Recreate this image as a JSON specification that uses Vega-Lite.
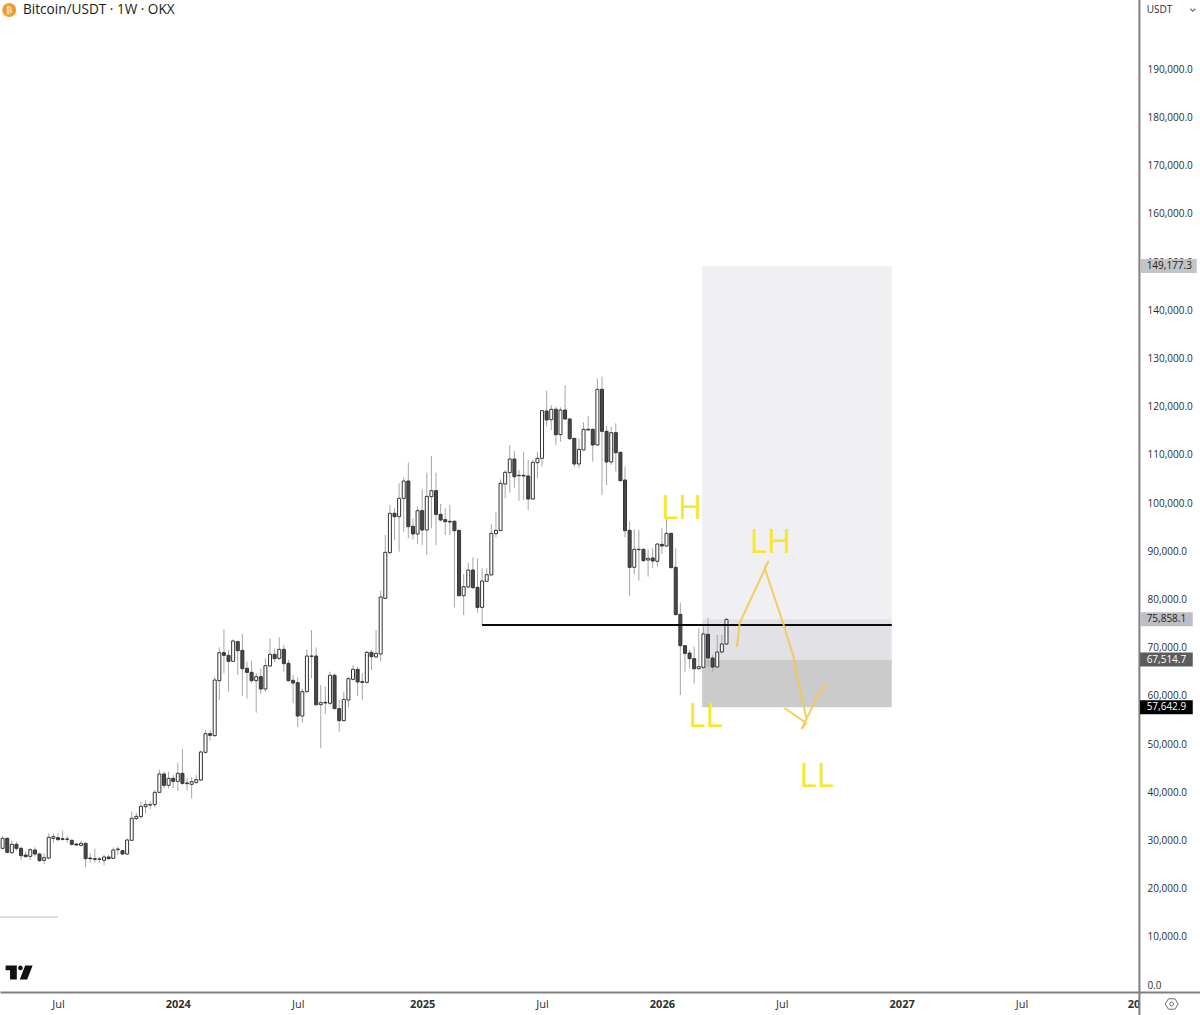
{
"$schema":"https://vega.github.io/schema/vega-lite/v6.json",
"width":1200,"height":992,
"autosize":{"type":"none"},
"padding":{"left":0,"top":0,"right":0,"bottom":23},
"background":"#ffffff",
"config":{"view":{"stroke":null},"font":"Open Sans"},
"datasets":{
"candles":[
{"date":"2023-04-10","open":28353,"high":30912,"low":28146,"close":30428},
{"date":"2023-04-17","open":30428,"high":30636,"low":27316,"close":27523},
{"date":"2023-04-24","open":27454,"high":29944,"low":27178,"close":29183},
{"date":"2023-05-01","open":29183,"high":29737,"low":27869,"close":28353},
{"date":"2023-05-08","open":28353,"high":28699,"low":25933,"close":26832},
{"date":"2023-05-15","open":26970,"high":27662,"low":26486,"close":26624},
{"date":"2023-05-22","open":26693,"high":28353,"low":25933,"close":28077},
{"date":"2023-05-29","open":28008,"high":28561,"low":26624,"close":27178},
{"date":"2023-06-05","open":27178,"high":27454,"low":25518,"close":25795},
{"date":"2023-06-12","open":25864,"high":27316,"low":25103,"close":26417},
{"date":"2023-06-19","open":26348,"high":31466,"low":26071,"close":30636},
{"date":"2023-06-26","open":30428,"high":31466,"low":29529,"close":30774},
{"date":"2023-07-03","open":30566,"high":31466,"low":29944,"close":30151},
{"date":"2023-07-10","open":30359,"high":32019,"low":29944,"close":30221},
{"date":"2023-07-17","open":30290,"high":30912,"low":29529,"close":30221},
{"date":"2023-07-24","open":30013,"high":30221,"low":28907,"close":29183},
{"date":"2023-07-31","open":29252,"high":29529,"low":28838,"close":29045},
{"date":"2023-08-07","open":28976,"high":29944,"low":28699,"close":29391},
{"date":"2023-08-14","open":29391,"high":29529,"low":24412,"close":26210},
{"date":"2023-08-21","open":26348,"high":27316,"low":25379,"close":26210},
{"date":"2023-08-28","open":26210,"high":28284,"low":25379,"close":26071},
{"date":"2023-09-04","open":26071,"high":26624,"low":25379,"close":26140},
{"date":"2023-09-11","open":25864,"high":26970,"low":24826,"close":26555},
{"date":"2023-09-18","open":26555,"high":26970,"low":26071,"close":26210},
{"date":"2023-09-25","open":26279,"high":28561,"low":26140,"close":28008},
{"date":"2023-10-02","open":28077,"high":28699,"low":26970,"close":28215},
{"date":"2023-10-09","open":27869,"high":28008,"low":26970,"close":27178},
{"date":"2023-10-16","open":27178,"high":30428,"low":26970,"close":30082},
{"date":"2023-10-23","open":30013,"high":35961,"low":29875,"close":34578},
{"date":"2023-10-30","open":34509,"high":35754,"low":34232,"close":34993},
{"date":"2023-11-06","open":34924,"high":38036,"low":34578,"close":37068},
{"date":"2023-11-13","open":36998,"high":38382,"low":35615,"close":37413},
{"date":"2023-11-20","open":37413,"high":38036,"low":36445,"close":37344},
{"date":"2023-11-27","open":37413,"high":40456,"low":36860,"close":39972},
{"date":"2023-12-04","open":39972,"high":44744,"low":39765,"close":43776},
{"date":"2023-12-11","open":43776,"high":44260,"low":40802,"close":41425},
{"date":"2023-12-18","open":41425,"high":44260,"low":40802,"close":42877},
{"date":"2023-12-25","open":42877,"high":43569,"low":40802,"close":42255},
{"date":"2024-01-01","open":42255,"high":46128,"low":40249,"close":43914},
{"date":"2024-01-08","open":43914,"high":48963,"low":41494,"close":41840},
{"date":"2024-01-15","open":41909,"high":42877,"low":40318,"close":41770},
{"date":"2024-01-22","open":41632,"high":43084,"low":38727,"close":42185},
{"date":"2024-01-29","open":42047,"high":43569,"low":41701,"close":42600},
{"date":"2024-02-05","open":42531,"high":48617,"low":42323,"close":48341},
{"date":"2024-02-12","open":48272,"high":52905,"low":48064,"close":52144},
{"date":"2024-02-19","open":52144,"high":52905,"low":50692,"close":51799},
{"date":"2024-02-26","open":51729,"high":63970,"low":51521,"close":63278},
{"date":"2024-03-04","open":63140,"high":70056,"low":59129,"close":68949},
{"date":"2024-03-11","open":68949,"high":73790,"low":64661,"close":68396},
{"date":"2024-03-18","open":68396,"high":69503,"low":60858,"close":67151},
{"date":"2024-03-25","open":67151,"high":71716,"low":67082,"close":71370},
{"date":"2024-04-01","open":71232,"high":71439,"low":64316,"close":69364},
{"date":"2024-04-08","open":69433,"high":72822,"low":59954,"close":65630},
{"date":"2024-04-15","open":65699,"high":67082,"low":59474,"close":64869},
{"date":"2024-04-22","open":64869,"high":67290,"low":62587,"close":63140},
{"date":"2024-04-29","open":63140,"high":64661,"low":56501,"close":63970},
{"date":"2024-05-06","open":63970,"high":65699,"low":60374,"close":61411},
{"date":"2024-05-13","open":61411,"high":67774,"low":60858,"close":66252},
{"date":"2024-05-20","open":66183,"high":71923,"low":66045,"close":68604},
{"date":"2024-05-27","open":68604,"high":69848,"low":67082,"close":67704},
{"date":"2024-06-03","open":67774,"high":72131,"low":67428,"close":69641},
{"date":"2024-06-10","open":69641,"high":70540,"low":65007,"close":66667},
{"date":"2024-06-17","open":66736,"high":67428,"low":62933,"close":63140},
{"date":"2024-06-24","open":63209,"high":64316,"low":58437,"close":62656},
{"date":"2024-07-01","open":62725,"high":63831,"low":53457,"close":55809},
{"date":"2024-07-08","open":55809,"high":61549,"low":54426,"close":60858},
{"date":"2024-07-15","open":60858,"high":69641,"low":60651,"close":68258},
{"date":"2024-07-22","open":68258,"high":73652,"low":63624,"close":68189},
{"date":"2024-07-29","open":68258,"high":70056,"low":57884,"close":58160},
{"date":"2024-08-05","open":58160,"high":62241,"low":49100,"close":58575},
{"date":"2024-08-12","open":58644,"high":61895,"low":56224,"close":58506},
{"date":"2024-08-19","open":58437,"high":65007,"low":58091,"close":64246},
{"date":"2024-08-26","open":64246,"high":64661,"low":57192,"close":57331},
{"date":"2024-09-02","open":57331,"high":59129,"low":52558,"close":54841},
{"date":"2024-09-09","open":54841,"high":60858,"low":54633,"close":59267},
{"date":"2024-09-16","open":59129,"high":63970,"low":57607,"close":63555},
{"date":"2024-09-23","open":63416,"high":66390,"low":63140,"close":65491},
{"date":"2024-09-30","open":65491,"high":66045,"low":59959,"close":62863},
{"date":"2024-10-07","open":62932,"high":64661,"low":59129,"close":62794},
{"date":"2024-10-14","open":62794,"high":69364,"low":62587,"close":69018},
{"date":"2024-10-21","open":69018,"high":69503,"low":65353,"close":68119},
{"date":"2024-10-28","open":68050,"high":73652,"low":67774,"close":68811},
{"date":"2024-11-04","open":68673,"high":81800,"low":67075,"close":80498},
{"date":"2024-11-11","open":80220,"high":93360,"low":80082,"close":89764},
{"date":"2024-11-18","open":89695,"high":99585,"low":89418,"close":97856},
{"date":"2024-11-25","open":97856,"high":98893,"low":92323,"close":97164},
{"date":"2024-12-02","open":97164,"high":104080,"low":89902,"close":100968},
{"date":"2024-12-09","open":100968,"high":105325,"low":94052,"close":104564},
{"date":"2024-12-16","open":104564,"high":108368,"low":92669,"close":95089},
{"date":"2024-12-23","open":95158,"high":96818,"low":92461,"close":93568},
{"date":"2024-12-30","open":93568,"high":99239,"low":91493,"close":98409},
{"date":"2025-01-06","open":98409,"high":102835,"low":91285,"close":94398},
{"date":"2025-01-13","open":94398,"high":106293,"low":89211,"close":101383},
{"date":"2025-01-20","open":101314,"high":109751,"low":94743,"close":102559},
{"date":"2025-01-27","open":102559,"high":106293,"low":91285,"close":97648},
{"date":"2025-02-03","open":97648,"high":99792,"low":96127,"close":96472},
{"date":"2025-02-10","open":96542,"high":98893,"low":93360,"close":96127},
{"date":"2025-02-17","open":96196,"high":99585,"low":93360,"close":96058},
{"date":"2025-02-24","open":96196,"high":96472,"low":78352,"close":94259},
{"date":"2025-03-03","open":94329,"high":94398,"low":80566,"close":80773},
{"date":"2025-03-10","open":80773,"high":85268,"low":76762,"close":82640},
{"date":"2025-03-17","open":82571,"high":87620,"low":82294,"close":86098},
{"date":"2025-03-24","open":86098,"high":88726,"low":82087,"close":82433},
{"date":"2025-03-31","open":82502,"high":88519,"low":77246,"close":78352},
{"date":"2025-04-07","open":78352,"high":86444,"low":74687,"close":83816},
{"date":"2025-04-14","open":83747,"high":86444,"low":83678,"close":85130},
{"date":"2025-04-21","open":85061,"high":95642,"low":85061,"close":93706},
{"date":"2025-04-28","open":93637,"high":98201,"low":92876,"close":94329},
{"date":"2025-05-05","open":94259,"high":104910,"low":94190,"close":104080},
{"date":"2025-05-12","open":103941,"high":106847,"low":100968,"close":106362},
{"date":"2025-05-19","open":106293,"high":112033,"low":102143,"close":109128},
{"date":"2025-05-26","open":109128,"high":110788,"low":103180,"close":105463},
{"date":"2025-06-02","open":105739,"high":106846,"low":100483,"close":105670},
{"date":"2025-06-09","open":105739,"high":110650,"low":100622,"close":105600},
{"date":"2025-06-16","open":105600,"high":108921,"low":98547,"close":100829},
{"date":"2025-06-23","open":100829,"high":109059,"low":100622,"close":108437},
{"date":"2025-06-30","open":108367,"high":110650,"low":105117,"close":109267},
{"date":"2025-07-07","open":109267,"high":119295,"low":107538,"close":119157},
{"date":"2025-07-14","open":119087,"high":123306,"low":115837,"close":117220},
{"date":"2025-07-21","open":117289,"high":120332,"low":115145,"close":119433},
{"date":"2025-07-28","open":119433,"high":119986,"low":112033,"close":114177},
{"date":"2025-08-04","open":114177,"high":119848,"low":112724,"close":119295},
{"date":"2025-08-11","open":119295,"high":124482,"low":117220,"close":117428},
{"date":"2025-08-18","open":117428,"high":117566,"low":113070,"close":113347},
{"date":"2025-08-25","open":113416,"high":113416,"low":107399,"close":108091},
{"date":"2025-09-01","open":108091,"high":113416,"low":107192,"close":111134},
{"date":"2025-09-08","open":110996,"high":116736,"low":110996,"close":115284},
{"date":"2025-09-15","open":115284,"high":118050,"low":115145,"close":115145},
{"date":"2025-09-22","open":115284,"high":115491,"low":108575,"close":112033},
{"date":"2025-09-29","open":112033,"high":125865,"low":111825,"close":123583},
{"date":"2025-10-06","open":123583,"high":126211,"low":101659,"close":114869},
{"date":"2025-10-13","open":114869,"high":115975,"low":103734,"close":108506},
{"date":"2025-10-20","open":108506,"high":115837,"low":107883,"close":114592},
{"date":"2025-10-27","open":114592,"high":116528,"low":106500,"close":110442},
{"date":"2025-11-03","open":110511,"high":110650,"low":104425,"close":104633},
{"date":"2025-11-10","open":104772,"high":107538,"low":92876,"close":94260},
{"date":"2025-11-17","open":94329,"high":96127,"low":80704,"close":86652},
{"date":"2025-11-24","open":86652,"high":94536,"low":85269,"close":90387},
{"date":"2025-12-01","open":90387,"high":94398,"low":83886,"close":90318},
{"date":"2025-12-08","open":90387,"high":90594,"low":87828,"close":88035},
{"date":"2025-12-15","open":88174,"high":90387,"low":84716,"close":88519},
{"date":"2025-12-22","open":88589,"high":90594,"low":86445,"close":87966},
{"date":"2025-12-29","open":87897,"high":91632,"low":86790,"close":91493},
{"date":"2026-01-05","open":91424,"high":94744,"low":89419,"close":91078},
{"date":"2026-01-12","open":91078,"high":96819,"low":90940,"close":93706},
{"date":"2026-01-19","open":93706,"high":93706,"low":86445,"close":86583},
{"date":"2026-01-26","open":86652,"high":90733,"low":76762,"close":76831},
{"date":"2026-02-02","open":76900,"high":79321,"low":60164,"close":70399},
{"date":"2026-02-09","open":70399,"high":70537,"low":65005,"close":68809},
{"date":"2026-02-16","open":68878,"high":69500,"low":65697,"close":67702},
{"date":"2026-02-23","open":67702,"high":70192,"low":62584,"close":65628},
{"date":"2026-03-02","open":65628,"high":73996,"low":65489,"close":66042},
{"date":"2026-03-09","open":65904,"high":74342,"low":65697,"close":72820},
{"date":"2026-03-16","open":72751,"high":76209,"low":66042,"close":67841},
{"date":"2026-03-23","open":67841,"high":68463,"low":65005,"close":65973},
{"date":"2026-03-30","open":65973,"high":72612,"low":65697,"close":69085},
{"date":"2026-04-06","open":69085,"high":72612,"low":68809,"close":70745},
{"date":"2026-04-13","open":70745,"high":76070,"low":70537,"close":75858}
],
"zones":[
{"start":"2026-03-07","end":"2026-12-20","top":149177,"bottom":75858,"zone":"reward"},
{"start":"2026-03-07","end":"2026-12-20","top":75858,"bottom":67515,"zone":"entry"},
{"start":"2026-03-07","end":"2026-12-20","top":67515,"bottom":57643,"zone":"risk"}
],
"drawing":[
{"n":1,"leg":"path","date":"2026-04-29","price":70125},
{"n":2,"leg":"path","date":"2026-05-03","price":75104},
{"n":3,"leg":"path","date":"2026-06-16","price":87967},
{"n":4,"leg":"path","date":"2026-06-10","price":86515},
{"n":5,"leg":"path","date":"2026-07-08","price":75104},
{"n":6,"leg":"path","date":"2026-07-24","price":68050},
{"n":7,"leg":"path","date":"2026-07-28","price":64731},
{"n":8,"leg":"path","date":"2026-08-12","price":55602},
{"n":9,"leg":"head","date":"2026-07-10","price":57469},
{"n":10,"leg":"head","date":"2026-08-12","price":54357},
{"n":11,"leg":"head","date":"2026-08-05","price":53112},
{"n":12,"leg":"head","date":"2026-08-25","price":58714},
{"n":13,"leg":"head","date":"2026-09-12","price":62656}
],
"swings":[
{"date":"2026-02-04","price":98756,"label":"LH"},
{"date":"2026-06-19","price":91702,"label":"LH"},
{"date":"2026-03-12","price":55602,"label":"LL"},
{"date":"2026-08-28","price":43154,"label":"LL"}
],
"tags":[
{"date":"2028-01-01","end":"2028-03-27","label_date":"2028-01-11","price":149177.3,"top":150630,"bottom":147725,"zone":"tag_target"},
{"date":"2028-01-01","end":"2028-03-21","label_date":"2028-01-11","price":75858.1,"top":77310,"bottom":74406,"zone":"tag_last"},
{"date":"2028-01-01","end":"2028-03-21","label_date":"2028-01-11","price":67514.7,"top":68967,"bottom":66062,"zone":"tag_entry"},
{"date":"2028-01-01","end":"2028-03-21","label_date":"2028-01-11","price":57642.9,"top":59095,"bottom":56190,"zone":"tag_stop"}
]
},
"layer":[
{"data":{"name":"zones"},
"mark":{"type":"rect"},
"encoding":{
"x":{"field":"start","type":"temporal","title":null,
"scale":{"domain":["2023-04-06","2028-04-01"],"type":"utc","padding":0},
"axis":{"title":null,"grid":false,"ticks":false,"domainColor":"#808080","domainWidth":2,"labelPadding":6,
"labelFontSize":11,"labelColor":"#2e2e2e","labelFont":"Open Sans","labelOverlap":false,"labelBound":false,"labelFlush":false,
"values":["2023-07-03","2024-01-01","2024-07-01","2025-01-06","2025-07-07","2026-01-05","2026-07-06","2027-01-04","2027-07-05","2027-12-22"],
"labelExpr":"utcmonth(datum.value)==11?'20':utcmonth(datum.value)==0?utcyear(datum.value)+'':'Jul'",
"labelFontWeight":{"condition":{"test":"utcmonth(datum.value)==0||utcmonth(datum.value)==11","value":"bold"},"value":"normal"}}},
"x2":{"field":"end"},
"y":{"field":"top","type":"quantitative","title":null,
"scale":{"domain":[-1452,204358],"nice":false,"zero":false},
"axis":{"orient":"right","offset":-61,"title":null,"grid":false,"ticks":false,"domain":false,"labelPadding":8,
"labelFontSize":10,"labelColor":"#2e2e2e","labelFont":"Open Sans","format":",.1f","labelOverlap":false,"labelBound":false,"labelFlush":false,
"values":[0,10000,20000,30000,40000,50000,60000,70000,80000,90000,100000,110000,120000,130000,140000,150000,160000,170000,180000,190000]}},
"y2":{"field":"bottom"},
"color":{"field":"zone","type":"nominal","legend":null,
"scale":{"domain":["reward","entry","risk","tag_target","tag_last","tag_entry","tag_stop"],"range":["#f0f0f3","#e2e2e6","#cbcbcb","#c3c3c8","#bdbfc7","#5c5c5c","#000000"]}}
}},
{"data":{"name":"candles"},
"mark":{"type":"rule","strokeWidth":1,"color":"#a6a6a6"},
"encoding":{"x":{"field":"date","type":"temporal"},"y":{"field":"high","type":"quantitative"},"y2":{"field":"low"}}},
{"data":{"name":"candles"},
"mark":{"type":"bar","size":3,"stroke":"#333333","strokeWidth":1},
"encoding":{"x":{"field":"date","type":"temporal"},"y":{"field":"open","type":"quantitative"},"y2":{"field":"close"},
"fill":{"condition":{"test":"datum.close>=datum.open","value":"#ffffff"},"value":"#484848"}}},
{"data":{"values":[{"start":"2025-04-07","end":"2026-12-20","price":74689}]},
"mark":{"type":"rule","strokeWidth":2,"color":"#0a0a0a"},
"encoding":{"x":{"field":"start","type":"temporal"},"x2":{"field":"end"},"y":{"field":"price","type":"quantitative"}}},
{"data":{"values":[{"start":"2023-04-06","end":"2023-07-03","price":14108}]},
"mark":{"type":"rule","strokeWidth":1,"color":"#bdbdbd"},
"encoding":{"x":{"field":"start","type":"temporal"},"x2":{"field":"end"},"y":{"field":"price","type":"quantitative"}}},
{"data":{"name":"drawing"},
"mark":{"type":"line","strokeWidth":2,"color":"#f3c94f","opacity":0.9},
"encoding":{"x":{"field":"date","type":"temporal"},"y":{"field":"price","type":"quantitative"},"detail":{"field":"leg"},"order":{"field":"n"}}},
{"data":{"name":"swings"},
"mark":{"type":"text","font":"Open Sans","fontSize":33,"fontWeight":400,"color":"#f6e72c","baseline":"middle","align":"center"},
"encoding":{"x":{"field":"date","type":"temporal"},"y":{"field":"price","type":"quantitative"},"text":{"field":"label"}}},
{"data":{"values":[{"x":"2027-12-31","top":204358,"bottom":-6224}]},
"mark":{"type":"rule","strokeWidth":2,"color":"#808080"},
"encoding":{"x":{"field":"x","type":"temporal"},"y":{"field":"top","type":"quantitative"},"y2":{"field":"bottom"}}},
{"data":{"name":"tags"},
"mark":{"type":"rect"},
"encoding":{"x":{"field":"date","type":"temporal"},"x2":{"field":"end"},"y":{"field":"top","type":"quantitative"},"y2":{"field":"bottom"},
"color":{"field":"zone","type":"nominal","legend":null}}},
{"data":{"name":"tags"},
"mark":{"type":"text","font":"Open Sans","fontSize":10,"align":"left","baseline":"middle"},
"encoding":{"x":{"field":"label_date","type":"temporal"},"y":{"field":"price","type":"quantitative"},
"text":{"field":"price","type":"quantitative","format":",.1f"},
"fill":{"condition":{"test":"datum.zone=='tag_entry'||datum.zone=='tag_stop'","value":"#ffffff"},"value":"#222222"}}},
{"data":{"values":[{"date":"2028-01-11","price":202283,"label":"USDT"}]},
"mark":{"type":"text","font":"Open Sans","fontSize":10,"align":"left","baseline":"middle","color":"#2e2e2e"},
"encoding":{"x":{"field":"date","type":"temporal"},"y":{"field":"price","type":"quantitative"},"text":{"field":"label"}}},
{"data":{"values":[{"date":"2028-03-21","price":202283}]},
"mark":{"type":"point","shape":"M-1 -0.5L0 0.5L1 -0.5","size":25,"stroke":"#2e2e2e","strokeWidth":1.2,"fill":null},
"encoding":{"x":{"field":"date","type":"temporal"},"y":{"field":"price","type":"quantitative"}}},
{"data":{"values":[{"date":"2023-05-11","price":202283,"label":"Bitcoin/USDT · 1W · OKX"}]},
"mark":{"type":"text","font":"Open Sans","fontSize":13.6,"align":"left","baseline":"middle","color":"#1a1a1a"},
"encoding":{"x":{"field":"date","type":"temporal"},"y":{"field":"price","type":"quantitative"},"text":{"field":"label"}}},
{"data":{"values":[{"date":"2023-04-20","price":202283}]},
"mark":{"type":"point","shape":"circle","size":196,"filled":true,"color":"#f39a33","opacity":1},
"encoding":{"x":{"field":"date","type":"temporal"},"y":{"field":"price","type":"quantitative"}}},
{"data":{"values":[{"date":"2023-04-20","price":202283,"label":"₿"}]},
"mark":{"type":"text","font":"DejaVu Sans","fontSize":9,"fontWeight":"bold","align":"center","baseline":"middle","color":"#fde7c8"},
"encoding":{"x":{"field":"date","type":"temporal"},"y":{"field":"price","type":"quantitative"},"text":{"field":"label"}}},
{"data":{"values":[{"date":"2023-05-05","price":2593}]},
"mark":{"type":"point","shape":"M-1 -0.51L-0.17 -0.51L-0.17 0.51L-0.67 0.51L-0.67 -0.16L-1 -0.16ZM-0.07 -0.34a0.17 0.17 0 1 0 0.34 0a0.17 0.17 0 1 0 -0.34 0ZM0.45 -0.51L1 -0.51L0.6 0.51L0.05 0.51Z","size":729,"filled":true,"color":"#111111","opacity":1},
"encoding":{"x":{"field":"date","type":"temporal"},"y":{"field":"price","type":"quantitative"}}},
{"data":{"values":[{"date":"2028-02-18","price":-3942}]},
"mark":{"type":"point","shape":"M-1 0L-0.5 -0.8L0.5 -0.8L1 0L0.5 0.8L-0.5 0.8ZM0.3 0a0.3 0.3 0 1 0 -0.6 0a0.3 0.3 0 1 0 0.6 0Z","size":169,"stroke":"#2e2e2e","strokeWidth":1,"fill":null},
"encoding":{"x":{"field":"date","type":"temporal"},"y":{"field":"price","type":"quantitative"}}}
]
}
